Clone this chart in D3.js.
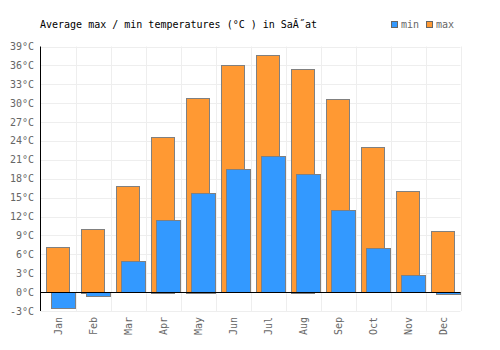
<!DOCTYPE html>
<html>
<head>
<meta charset="utf-8">
<script src="https://cdn.jsdelivr.net/npm/d3@7"></script>
<style>
  body { margin: 0; background: #fff; }
  svg { display: block; font-family: "DejaVu Sans Mono", monospace; }
</style>
</head>
<body>
<svg width="500" height="350"></svg>
<script>
// данные графика
const months = ["Jan", "Feb", "Mar", "Apr", "May", "Jun", "Jul", "Aug", "Sep", "Oct", "Nov", "Dec"];
const minTemp = [-2.5, -0.6, 4.9, 11.4, 15.8, 19.5, 21.6, 18.7, 13.0, 7.0, 2.7, -0.3];
const maxTemp = [7.1, 10.1, 16.8, 24.7, 30.9, 36.0, 37.7, 35.5, 30.6, 23.0, 16.0, 9.7];
const yTicks = [-3, 0, 3, 6, 9, 12, 15, 18, 21, 24, 27, 30, 33, 36, 39];

const svg = d3.select("svg");
const area = { left: 40.5, right: 460.5, top: 46.5, bottom: 311 };

const scaleX = d3.scaleBand()
    .domain(months)
    .range([area.left, area.right]);

const scaleY = d3.scaleLinear()
    .domain([-3, 39])
    .range([area.bottom, area.top]);

// сетка
svg.append("g")
    .selectAll("line")
    .data(yTicks)
    .enter()
    .append("line")
    .attr("x1", area.left)
    .attr("x2", area.right)
    .attr("y1", d => Math.round(scaleY(d)) + 0.5)
    .attr("y2", d => Math.round(scaleY(d)) + 0.5)
    .style("stroke", "#eeeeee");

svg.append("g")
    .selectAll("line")
    .data(months)
    .enter()
    .append("line")
    .attr("x1", d => Math.round(scaleX(d) + scaleX.bandwidth()) + 0.5)
    .attr("x2", d => Math.round(scaleX(d) + scaleX.bandwidth()) + 0.5)
    .attr("y1", area.top)
    .attr("y2", area.bottom)
    .style("stroke", "#eeeeee");

// подписи оси Y
svg.append("g")
    .selectAll("text")
    .data(yTicks)
    .enter()
    .append("text")
    .attr("x", 34)
    .attr("y", d => scaleY(d) + 3.5)
    .attr("text-anchor", "end")
    .style("font-size", "10px")
    .style("fill", "#666")
    .text(d => d + "°C");

// подписи оси X - вертикальные
svg.append("g")
    .selectAll("text")
    .data(months)
    .enter()
    .append("text")
    .attr("transform", d => `translate(${scaleX(d) + scaleX.bandwidth() / 2 + 3.5}, 317) rotate(-90)`)
    .attr("text-anchor", "end")
    .style("font-size", "10px")
    .style("fill", "#666")
    .text(d => d);

const bw = scaleX.bandwidth();

// столбцы max
svg.append("g")
    .selectAll("rect")
    .data(months)
    .enter()
    .append("rect")
    .attr("x", d => Math.round(scaleX(d) + bw * 0.17) + 0.5)
    .attr("width", Math.round(bw * 0.655))
    .attr("y", (d, i) => Math.round(scaleY(Math.max(0, maxTemp[i]))) + 0.5)
    .attr("height", (d, i) => Math.round(Math.abs(scaleY(maxTemp[i]) - scaleY(0))))
    .style("fill", "#ff9933")
    .style("stroke", "#808080");

// столбцы min
svg.append("g")
    .selectAll("rect")
    .data(months)
    .enter()
    .append("rect")
    .attr("x", d => Math.round(scaleX(d) + bw * 0.3) + 0.5)
    .attr("width", Math.round(bw * 0.7) - 1)
    .attr("y", (d, i) => Math.round(scaleY(Math.max(0, minTemp[i]))) + 0.5)
    .attr("height", (d, i) => Math.round(Math.abs(scaleY(minTemp[i]) - scaleY(0))))
    .style("fill", "#3399ff")
    .style("stroke", "#808080");

// оси
svg.append("line")
    .attr("x1", area.left).attr("x2", area.left)
    .attr("y1", area.top).attr("y2", area.bottom)
    .style("stroke", "#000");

svg.append("line")
    .attr("x1", area.left).attr("x2", area.right)
    .attr("y1", Math.round(scaleY(0)) + 0.5).attr("y2", Math.round(scaleY(0)) + 0.5)
    .style("stroke", "#000");

// заголовок
svg.append("text")
    .attr("x", 40)
    .attr("y", 28)
    .style("font-size", "10px")
    .style("fill", "#000")
    .text("Average max / min temperatures (°C ) in SaĂ˝at");

// легенда
const legend = [{ name: "min", color: "#3399ff", x: 391 }, { name: "max", color: "#ff9933", x: 426 }];
const lg = svg.append("g");
lg.selectAll("rect")
    .data(legend)
    .enter()
    .append("rect")
    .attr("x", d => d.x + 0.5)
    .attr("y", 21.5)
    .attr("width", 6)
    .attr("height", 6)
    .style("fill", d => d.color)
    .style("stroke", "#666");
lg.selectAll("text")
    .data(legend)
    .enter()
    .append("text")
    .attr("x", d => d.x + 10)
    .attr("y", 28)
    .style("font-size", "10px")
    .style("fill", "#666")
    .text(d => d.name);
</script>
</body>
</html>
